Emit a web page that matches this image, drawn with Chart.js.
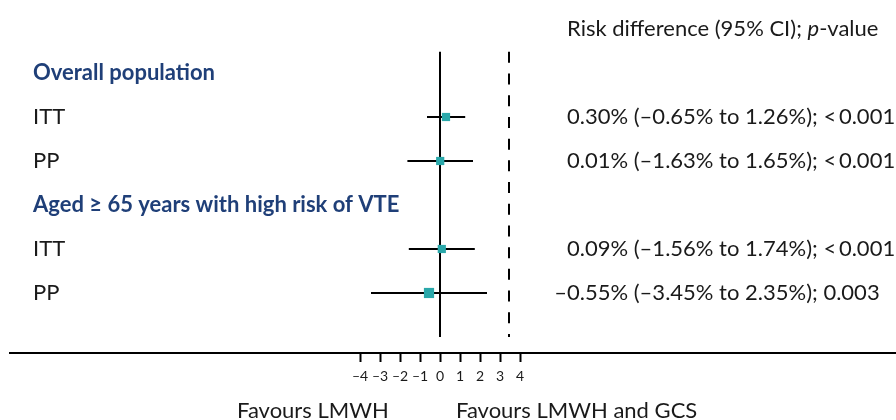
<!DOCTYPE html>
<html>
<head>
<meta charset="utf-8">
<script src="https://cdn.jsdelivr.net/npm/chart.js@4.4.1/dist/chart.umd.min.js"></script>
<style>
  body { margin: 0; background: #fff; }
  #wrap { width: 896px; height: 420px; position: relative; }
</style>
</head>
<body>
<div id="wrap"><canvas id="forest"></canvas></div>
<script>
// row labels on the left (row 1..6), headers are bold blue
const rowLabels = ['Overall population', 'ITT', 'PP', 'Aged \u2265 65 years with high risk of VTE', 'ITT', 'PP'];
const headerRows = [1, 4];

// estimates per study row (rows 2, 3, 5, 6)
const studyRows = [2, 3, 5, 6];
const riskDiff = [0.30, 0.01, 0.09, -0.55];
const lowerCI = [-0.65, -1.63, -1.56, -3.45];
const upperCI = [1.26, 1.65, 1.74, 2.35];
const markerSize = [5.8, 5.8, 5.8, 7.2];
const resultText = [
    '0.30% (\u20130.65% to 1.26%); <\u20090.001',
    '0.01% (\u20131.63% to 1.65%); <\u20090.001',
    '0.09% (\u20131.56% to 1.74%); <\u20090.001',
    '\u20130.55% (\u20133.45% to 2.35%); 0.003'
];

const xTicks = [-4, -3, -2, -1, 0, 1, 2, 3, 4];
const margin = 3.45;

const textColor = '#1a1a1a';
const headerColor = '#1f3f78';
const markerColor = '#2aa8aa';
const fontSize = 22;

Chart.defaults.font.family = 'Lato, "Open Sans", sans-serif';
Chart.defaults.color = textColor;

const isHeader = c => !!(c && c.tick && headerRows.includes(c.tick.value));

// error bars, one small line per row
const ciSets = studyRows.map((row, i) => ({
    type: 'line',
    data: [{ x: lowerCI[i], y: row }, { x: upperCI[i], y: row }],
    borderColor: '#000',
    borderWidth: 2,
    pointRadius: 0,
    order: 2
}));

// text drawn next to the plot (right column + favours labels)
const sideText = {
    id: 'sideText',
    afterDraw(chart) {
        const ctx = chart.ctx;
        const x = chart.scales.x;
        const y = chart.scales.y;
        const colX = x.getPixelForValue(6.35);
        const normal = fontSize + 'px Lato';
        ctx.save();
        ctx.fillStyle = textColor;
        ctx.textBaseline = 'middle';
        ctx.textAlign = 'left';
        ctx.font = normal;

        // header: Risk difference (95% CI); p-value
        const hy = y.getPixelForValue(0);
        let px = colX;
        const part1 = 'Risk difference (95% CI); ';
        ctx.fillText(part1, px, hy);
        px += ctx.measureText(part1).width;
        ctx.font = 'italic ' + normal;
        ctx.fillText('p', px, hy);
        px += ctx.measureText('p').width;
        ctx.font = normal;
        ctx.fillText('-value', px, hy);

        studyRows.forEach((row, i) => {
            let tx = colX;
            const t = resultText[i];
            if (t.startsWith('\u2013')) tx -= ctx.measureText('\u2013').width;
            ctx.fillText(t, tx, y.getPixelForValue(row));
        });

        const fy = x.top + 58;
        ctx.fillText('Favours LMWH', x.getPixelForValue(-10.15), fy);
        ctx.fillText('Favours LMWH and GCS', x.getPixelForValue(0.8), fy);
        ctx.restore();
    }
};

const ctx = document.getElementById('forest').getContext('2d');
const forestChart = new Chart(ctx, {
    data: {
        datasets: [
            ...ciSets,
            {
                type: 'line',
                data: [{ x: 0, y: 0.52 }, { x: 0, y: 7.0 }],
                borderColor: '#000',
                borderWidth: 2,
                pointRadius: 0,
                order: 3
            },
            {
                type: 'line',
                data: [{ x: margin, y: 0.52 }, { x: margin, y: 7.0 }],
                borderColor: '#000',
                borderWidth: 2,
                borderDash: [11, 10.7],
                pointRadius: 0,
                order: 3
            },
            {
                type: 'scatter',
                data: studyRows.map((row, i) => ({ x: riskDiff[i], y: row })),
                pointStyle: 'rect',
                pointRadius: markerSize,
                backgroundColor: markerColor,
                borderWidth: 0,
                order: 1
            }
        ]
    },
    options: {
        responsive: true,
        maintainAspectRatio: false,
        animation: false,
        layout: { padding: 0, autoPadding: false },
        plugins: {
            legend: { display: false },
            tooltip: { enabled: false }
        },
        scales: {
            x: {
                type: 'linear',
                min: -21.5,
                max: 22.8,
                afterBuildTicks: axis => { axis.ticks = xTicks.map(v => ({ value: v })); },
                afterFit: axis => {
                    axis.height = 67;
                    axis.paddingLeft = 0;
                    axis.paddingRight = 0;
                },
                ticks: {
                    autoSkip: false,
                    maxRotation: 0,
                    padding: 6,
                    color: textColor,
                    font: { size: 14 },
                    callback: v => (v < 0 ? '\u2013' + Math.abs(v) : String(v))
                },
                grid: {
                    drawOnChartArea: false,
                    tickLength: 9,
                    tickWidth: 2,
                    color: '#000'
                },
                border: { display: true, color: '#000', width: 2 }
            },
            y: {
                type: 'linear',
                reverse: true,
                min: -0.659,
                max: 7.364,
                afterBuildTicks: axis => { axis.ticks = rowLabels.map((l, i) => ({ value: i + 1 })); },
                afterFit: axis => {
                    axis.width = 10;
                    axis.paddingTop = 0;
                    axis.paddingBottom = 0;
                },
                ticks: {
                    mirror: true,
                    padding: 23,
                    autoSkip: false,
                    callback: v => rowLabels[v - 1],
                    color: c => (isHeader(c) ? headerColor : textColor),
                    font: c => (isHeader(c) ? { size: fontSize, weight: 'bold' } : { size: fontSize })
                },
                grid: { display: false },
                border: { display: false }
            }
        }
    },
    plugins: [sideText]
});
</script>
</body>
</html>
